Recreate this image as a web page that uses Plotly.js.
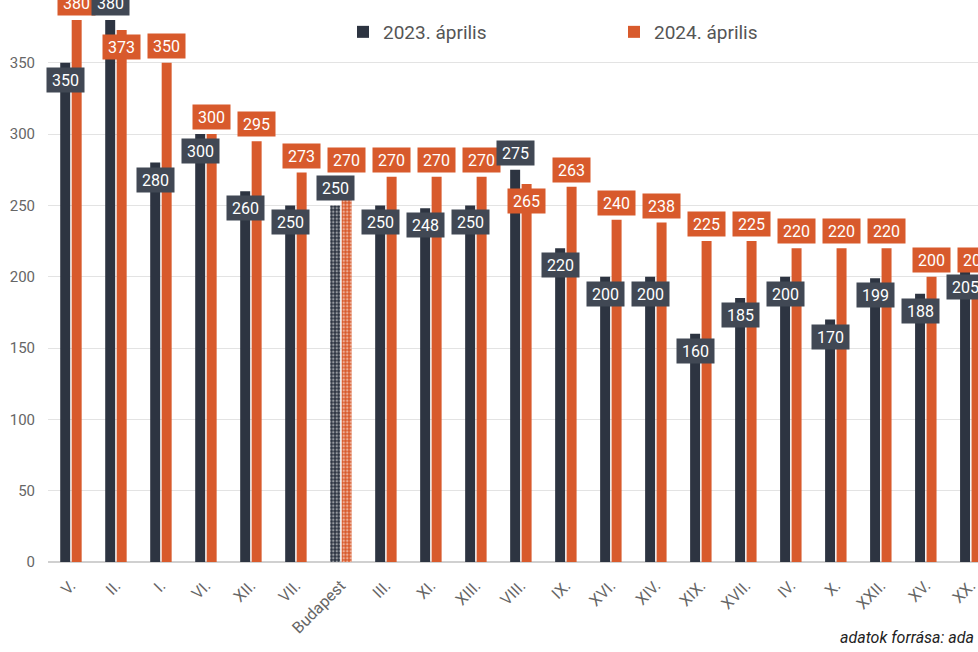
<!DOCTYPE html>
<html>
<head>
<meta charset="utf-8">
<script src="https://cdn.plot.ly/plotly-3.0.1.min.js"></script>
<style>html,body{margin:0;padding:0;background:#fff;overflow:hidden}#chart{width:978px;height:652px}</style>
</head>
<body>
<div id="chart"></div>
<script>
const categories = ["V.","II.","I.","VI.","XII.","VII.","Budapest","III.","XI.","XIII.","VIII.","IX.","XVI.","XIV.","XIX.","XVII.","IV.","X.","XXII.","XV.","XX."];
const values2023 = [350,380,280,300,260,250,250,250,248,250,275,220,200,200,160,185,200,170,199,188,205];
const values2024 = [380,373,350,300,295,273,270,270,270,270,265,263,240,238,225,225,220,220,220,200,200];
const seriesNames = ["2023. április","2024. április"];
const highlight = "Budapest";
const footnote = "adatok forrása: ada";

const DARK = "#2d3441", DARK_LBL = "#414854", ORANGE = "#d85a2c";
const pat = categories.map(c => c === highlight ? "." : "");

const traces = [
  {type:"bar", name:seriesNames[0], x:categories, y:values2023,
   marker:{color:DARK, pattern:{shape:pat, fgcolor:"#ffffff", size:3.5, solidity:0.4, fillmode:"overlay"}},
   hoverinfo:"skip"},
  {type:"bar", name:seriesNames[1], x:categories, y:values2024,
   marker:{color:ORANGE, pattern:{shape:pat, fgcolor:"#ffffff", size:3.5, solidity:0.4, fillmode:"overlay"}},
   hoverinfo:"skip"}
];

const annotations = [];
const OFF = 5.75, LIFT = 17;
categories.forEach((c, i) => {
  const d = values2023[i], o = values2024[i];
  // collision rule: default dark label below bar top, orange above; swap when they would overlap
  const darkAbove = (c === highlight) || (d - o > 6);
  const orangeAbove = !(d - o > 6);
  annotations.push({x:c, y:d, xref:"x", yref:"y", text:String(d), showarrow:false,
    xshift:-OFF, yshift: darkAbove ? LIFT : -LIFT, bgcolor:DARK_LBL, borderpad:2,
    width:33, height:20, font:{family:"Roboto", size:16, color:"#ffffff"}});
  annotations.push({x:c, y:o, xref:"x", yref:"y", text:String(o), showarrow:false,
    xshift:OFF, yshift: orangeAbove ? LIFT : -LIFT, bgcolor:ORANGE, borderpad:2,
    width:33, height:20, font:{family:"Roboto", size:16, color:"#ffffff"}});
});
annotations.push({xref:"paper", yref:"paper", x:(838-48)/930, y:-(637-562)/562, xanchor:"left", yanchor:"middle",
  text:footnote, showarrow:false, font:{family:"Roboto", size:16, color:"#222222", style:"italic"}});

const layout = {
  width:978, height:652,
  margin:{l:48, r:0, t:0, b:90, pad:0},
  paper_bgcolor:"#ffffff", plot_bgcolor:"#ffffff",
  font:{family:"Roboto", color:"#666666"},
  barmode:"group", bargap:0.49, bargroupgap:0.13,
  showlegend:true,
  legend:{orientation:"h", x:(343-48)/930, xanchor:"left", y:1-32/562, yanchor:"middle",
    font:{family:"Roboto", size:19, color:"#555555"}, bgcolor:"rgba(0,0,0,0)",
    entrywidthmode:"pixels", entrywidth:226, itemclick:false},
  xaxis:{type:"category", range:[-0.51, 20.16], tickangle:-45, showgrid:false,
    tickfont:{family:"Roboto", size:16, color:"#666666"}, ticks:"outside", ticklen:7, tickcolor:"rgba(0,0,0,0)",
    showline:false, zeroline:false},
  yaxis:{range:[0, 394], dtick:50, tick0:0, showgrid:true, gridcolor:"#e3e3e3", gridwidth:1,
    zeroline:true, zerolinecolor:"#d0d0d0", zerolinewidth:1.5, ticks:"", ticklabelstandoff:12,
    tickfont:{family:"Roboto", size:15, color:"#666666"}, showline:false},
  annotations:annotations
};

Plotly.newPlot("chart", traces, layout, {displayModeBar:false, staticPlot:true});
</script>
</body>
</html>
